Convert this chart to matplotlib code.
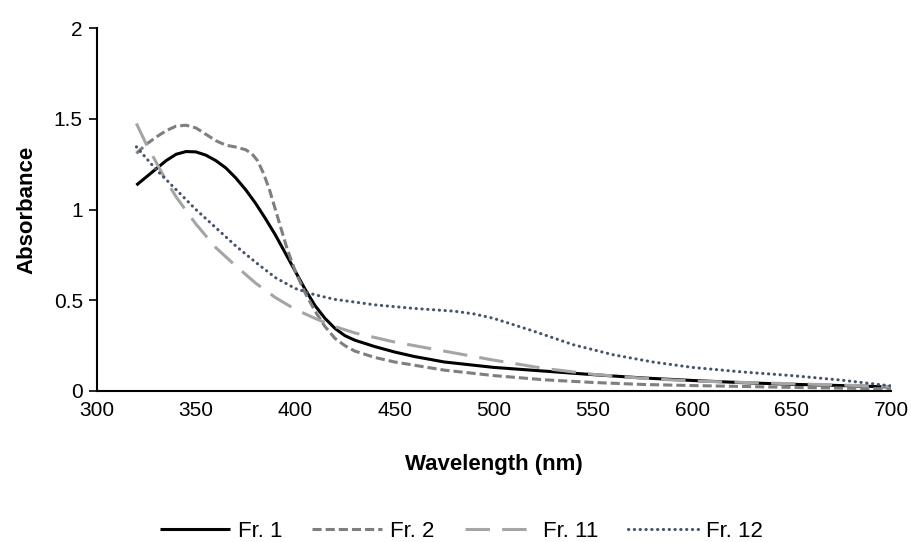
import matplotlib
matplotlib.use("Agg")
import matplotlib.pyplot as plt

plt.rcParams['font.family'] = ['Liberation Sans', 'DejaVu Sans']

wl_fr1 = [320, 325, 330, 335, 340, 345, 350, 355, 360, 365, 370, 375, 380, 385, 390, 395, 400, 405, 410, 415, 420, 425, 430, 440, 450, 460, 475, 500, 525, 550, 575, 600, 625, 650, 675, 700]
fr1 = [1.135, 1.18, 1.225, 1.27, 1.305, 1.32, 1.318, 1.30, 1.27, 1.23, 1.175, 1.11, 1.035, 0.95, 0.86, 0.76, 0.66, 0.56, 0.47, 0.40, 0.345, 0.305, 0.28, 0.245, 0.215, 0.19, 0.16, 0.13, 0.11, 0.09, 0.072, 0.058, 0.046, 0.037, 0.03, 0.022]

wl_fr2 = [320, 325, 330, 335, 340, 345, 350, 355, 360, 365, 370, 375, 378, 381, 384, 387, 390, 393, 396, 400, 405, 410, 415, 420, 425, 430, 440, 450, 475, 500, 525, 550, 575, 600, 650, 700]
fr2 = [1.31, 1.36, 1.40, 1.435, 1.46, 1.465, 1.45, 1.415, 1.38, 1.355, 1.345, 1.33, 1.31, 1.27, 1.2, 1.11, 1.0, 0.89, 0.78, 0.66, 0.54, 0.44, 0.355, 0.29, 0.25, 0.22, 0.185, 0.16, 0.115, 0.085, 0.062, 0.047, 0.036, 0.03, 0.02, 0.012]

wl_fr11 = [320, 325, 330, 335, 340, 350, 360, 370, 380, 390, 400, 410, 420, 430, 450, 475, 500, 525, 550, 575, 600, 650, 700]
fr11 = [1.475, 1.36, 1.26, 1.16, 1.07, 0.92, 0.79, 0.69, 0.595, 0.515, 0.45, 0.40, 0.355, 0.32, 0.27, 0.22, 0.17, 0.125, 0.092, 0.07, 0.055, 0.04, 0.025]

wl_fr12 = [320, 330, 340, 350, 360, 370, 380, 390, 400, 410, 420, 440, 460, 480, 490, 500, 510, 520, 540, 560, 580, 600, 625, 650, 675, 700]
fr12 = [1.346, 1.22, 1.11, 1.0, 0.9, 0.80, 0.71, 0.625, 0.565, 0.53, 0.505, 0.475, 0.455, 0.44, 0.425, 0.40, 0.365, 0.33, 0.255, 0.20, 0.16, 0.13, 0.105, 0.085, 0.06, 0.028]

labels = ["Fr. 1", "Fr. 2", "Fr. 11", "Fr. 12"]
xticks = [300, 350, 400, 450, 500, 550, 600, 650, 700]
yticks = [0, 0.5, 1, 1.5, 2]
yticklabels = ["0", "0.5", "1", "1.5", "2"]

fig = plt.figure(figsize=(9.12, 5.42), dpi=100)
ax = fig.add_axes([0.106, 0.2786, 0.871, 0.6694])

lw = 2.2
ax.plot(wl_fr1, fr1, color='black', lw=lw, label=labels[0], solid_capstyle='butt')
ax.plot(wl_fr2, fr2, color='#7f7f7f', lw=lw, dashes=(3, 1.3), label=labels[1])
ax.plot(wl_fr11, fr11, color='#a5a5a5', lw=lw, dashes=(8, 4), label=labels[2])
ax.plot(wl_fr12, fr12, color='#44546a', lw=lw, dashes=(0.1, 1.8), dash_capstyle='round', label=labels[3])

ax.set_xlim(300, 700)
ax.set_ylim(0, 2)
ax.set_xticks(xticks)
ax.set_yticks(yticks)
ax.set_yticklabels(yticklabels)
ax.tick_params(axis='both', labelsize=15)
ax.tick_params(axis='x', length=0, pad=7)
ax.tick_params(axis='y', length=6, width=1.2, direction='out', pad=4)
for s in ['top', 'right']:
    ax.spines[s].set_visible(False)
for s in ['left', 'bottom']:
    ax.spines[s].set_linewidth(1.5)
    ax.spines[s].set_color('black')

ax.set_xlabel("Wavelength (nm)", fontsize=16, fontweight='bold', labelpad=25)
ax.set_ylabel("Absorbance", fontsize=16, fontweight='bold', labelpad=12)

fig.legend(loc='center', bbox_to_anchor=(0.506, 0.02), ncol=4, frameon=False,
           fontsize=16, handlelength=3.15, columnspacing=1.35, handletextpad=0.36,
           borderaxespad=0, borderpad=0)

fig.savefig("out.png", dpi=100)
